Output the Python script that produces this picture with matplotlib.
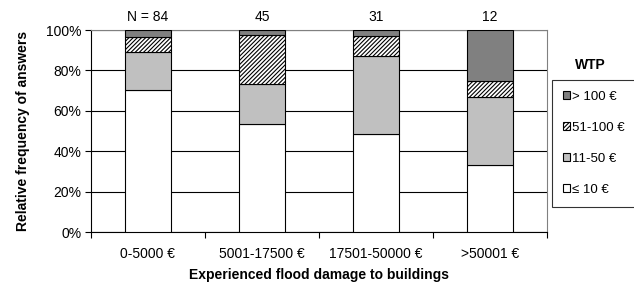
import numpy as np
import matplotlib.pyplot as plt
from matplotlib.patches import Patch

plt.rcParams['font.family'] = ['Liberation Sans', 'DejaVu Sans']
plt.rcParams['hatch.linewidth'] = 0.8

# Damage classes and sample sizes
categories = ['0-5000 €', '5001-17500 €', '17501-50000 €', '>50001 €']
n_labels = ['N = 84', '45', '31', '12']

# Relative frequency (%) of each WTP class per damage class
wtp_le10 = [70.2, 53.3, 48.4, 33.3]
wtp_11_50 = [19.0, 20.0, 38.7, 33.3]
wtp_51_100 = [7.1, 24.4, 9.7, 8.3]
wtp_gt100 = [3.6, 2.2, 3.2, 25.0]

fig = plt.figure(figsize=(6.34, 2.86), dpi=100)
ax = fig.add_axes([91 / 634, 1 - 232 / 286, 456 / 634, 202 / 286])

x = np.arange(len(categories))
w = 0.40
bottom = np.zeros(len(categories))
series = [
    (wtp_le10, 'white', None, '≤ 10 €'),
    (wtp_11_50, '#c0c0c0', None, '11-50 €'),
    (wtp_51_100, 'white', '////////', '51-100 €'),
    (wtp_gt100, '#808080', None, '> 100 €'),
]
handles = []
for vals, col, hatch, lab in series:
    ax.bar(x, vals, w, bottom=bottom, color=col, edgecolor='black',
           hatch=hatch, linewidth=0.8, zorder=3)
    bottom += np.array(vals)
    handles.append(Patch(facecolor=col, edgecolor='black', hatch=hatch,
                         linewidth=0.8, label=lab))

fs = 10
ax.set_xlim(-0.5, len(categories) - 0.5)
ax.set_ylim(0, 100)
ax.set_yticks(np.arange(0, 101, 20))
ax.set_yticklabels([f'{v}%' for v in range(0, 101, 20)], fontsize=fs)
ax.yaxis.grid(True, color='black', linewidth=0.8, zorder=0)
ax.set_axisbelow(True)

ax.set_xticks(x)
ax.set_xticklabels(categories, fontsize=fs)
ax.tick_params(axis='x', length=0, pad=11)
ax.set_xticks(np.arange(-0.5, len(categories)), minor=True)
ax.tick_params(axis='x', which='minor', length=4, width=0.8, direction='out')
ax.tick_params(axis='y', length=4, width=0.8, direction='out', pad=3)

for s in ['left', 'bottom']:
    ax.spines[s].set_linewidth(0.8)
for s in ['top', 'right']:
    ax.spines[s].set_color('#808080')
    ax.spines[s].set_linewidth(0.8)

for xi, lab in zip(x, n_labels):
    ax.text(xi, 103, lab, ha='center', va='bottom', fontsize=fs,
            clip_on=False)

ax.set_ylabel('Relative frequency of answers', fontsize=fs,
              fontweight='bold', labelpad=11)
ax.set_xlabel('Experienced flood damage to buildings', fontsize=fs,
              fontweight='bold', labelpad=5)

leg = fig.legend(handles=handles[::-1], loc='upper left',
                 bbox_to_anchor=(552 / 634, 1 - 80 / 286), fontsize=9.5,
                 frameon=True, fancybox=False, edgecolor='black',
                 handlelength=0.6, handleheight=0.6, handletextpad=0.1,
                 labelspacing=1.45, borderpad=0.8, borderaxespad=0)
leg.get_frame().set_linewidth(0.8)
fig.text(590 / 634, 1 - 65 / 286, 'WTP', ha='center', va='center',
         fontsize=fs, fontweight='bold')

fig.savefig('out.png', dpi=100)
